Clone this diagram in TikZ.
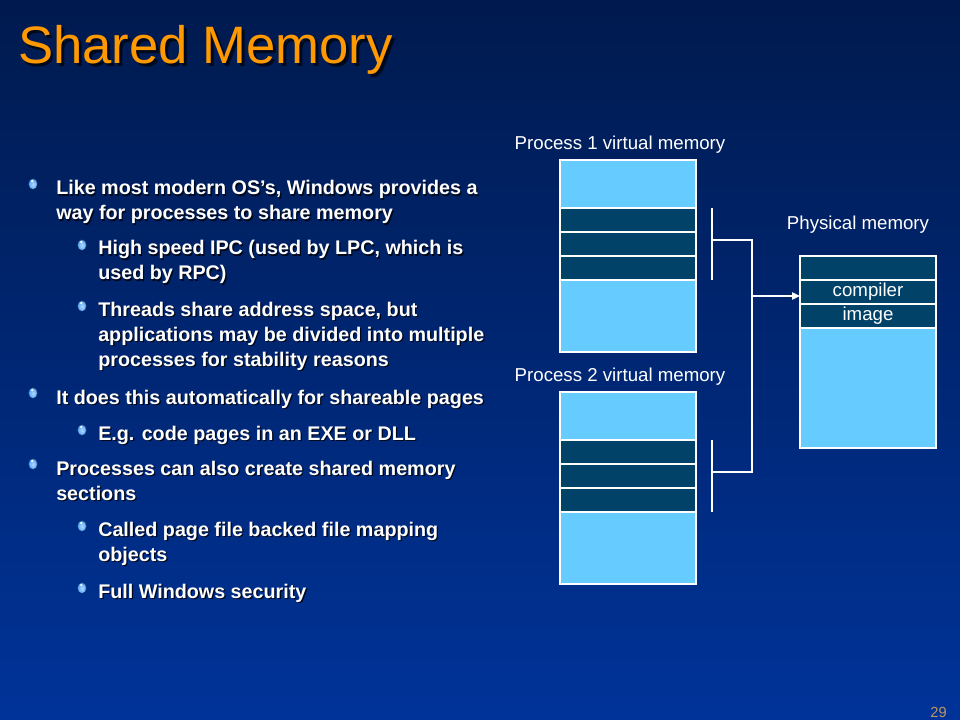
\documentclass[tikz,border=0pt]{standalone}
\usepackage{fontspec}
\setmainfont{Liberation Sans}
\usetikzlibrary{arrows.meta}
\definecolor{bgtop}{RGB}{0,26,78}
\definecolor{bgbot}{RGB}{0,51,153}
\definecolor{lightmem}{RGB}{102,204,255}
\definecolor{darkmem}{RGB}{0,66,104}
\definecolor{titleorange}{RGB}{255,153,0}
\definecolor{pagenum}{RGB}{190,150,100}
\definecolor{txtshadow}{RGB}{0,8,28}
\definecolor{bulletblue}{RGB}{100,175,250}
\newcommand{\shline}[2][1pt]{\hbox{\makebox[0pt][l]{\hspace{#1}\raisebox{-#1}{\color{txtshadow}#2}}#2}}
\newcommand{\para}[1]{\vtop{\baselineskip=18.75pt #1}}
\tikzset{
  cell/.style={draw=white, line width=1pt, minimum width=102pt, inner sep=0pt, outer sep=0pt, anchor=north west, text=white, font=\fontsize{14}{16}\selectfont},
  lightcell/.style={cell, fill=lightmem},
  darkcell/.style={cell, fill=darkmem},
  memlabel/.style={text=white, inner sep=0pt, font=\fontsize{14}{16}\selectfont},
  bulletA/.style={text=white, inner sep=0pt, anchor=base west, font=\bfseries\fontsize{14.8}{18.75}\selectfont},
  conn/.style={draw=white, line width=1pt},
}
\newcommand{\bdot}[2]{%
  \fill[bulletblue!75!black] (#1,#2) ellipse (3.3pt and 4pt);
  \shade[inner color=white!50!bulletblue, outer color=bulletblue] (#1,#2+0.3) ellipse (2.8pt and 3.4pt);
  \fill[white] (#1-0.8,#2-3) ellipse (1.1pt and 0.8pt);}
\begin{document}
\begin{tikzpicture}[x=0.75pt,y=-0.75pt]
\shade[top color=bgtop, bottom color=bgbot] (0,0) rectangle (960,720);
% title
\node[anchor=base west, inner sep=0pt, text=titleorange, font=\fontsize{39.5}{44}\selectfont] (title) at (18,64) {\shline[2pt]{Shared Memory}};
% bullets
\bdot{33}{184}
\node[bulletA] (t1) at (56,195) {\para{\shline{Like most modern OS’s, Windows provides a}\shline{way for processes to share memory}}};
\bdot{82}{245}
\node[bulletA] (t2) at (98,255) {\para{\shline{High speed IPC (used by LPC, which is}\shline{used by RPC)}}};
\bdot{82}{306}
\node[bulletA] (t3) at (98,316) {\para{\shline{Threads share address space, but}\shline{applications may be divided into multiple}\shline{processes for stability reasons}}};
\bdot{33}{393}
\node[bulletA] (t4) at (56,404) {\para{\shline{It does this automatically for shareable pages}}};
\bdot{82}{430}
\node[bulletA] (t5) at (98,440) {\para{\shline{E.g. code pages in an EXE or DLL}}};
\bdot{33}{464}
\node[bulletA] (t6) at (56,475) {\para{\shline{Processes can also create shared memory}\shline{sections}}};
\bdot{82}{526}
\node[bulletA] (t7) at (98,536) {\para{\shline{Called page file backed file mapping}\shline{objects}}};
\bdot{82}{588}
\node[bulletA] (t8) at (98,598) {\para{\shline{Full Windows security}}};
% labels
\node[memlabel] (l1) at (620,145) {Process 1 virtual memory};
\node[memlabel] (l2) at (620,377) {Process 2 virtual memory};
\node[memlabel] (l3) at (858,225) {Physical memory};
% process 1
\node[lightcell, minimum height=36pt] (p1a) at (560,160) {};
\node[darkcell, minimum height=18pt] (p1b) at (560,208) {};
\node[darkcell, minimum height=18pt] (p1c) at (560,232) {};
\node[darkcell, minimum height=18pt] (p1d) at (560,256) {};
\node[lightcell, minimum height=54pt] (p1e) at (560,280) {};
% process 2
\node[lightcell, minimum height=36pt] (p2a) at (560,392) {};
\node[darkcell, minimum height=18pt] (p2b) at (560,440) {};
\node[darkcell, minimum height=18pt] (p2c) at (560,464) {};
\node[darkcell, minimum height=18pt] (p2d) at (560,488) {};
\node[lightcell, minimum height=54pt] (p2e) at (560,512) {};
% physical
\node[darkcell, minimum height=18pt] (ph1) at (800,256) {};
\node[darkcell, minimum height=18pt] (ph2) at (800,280) {compiler};
\node[darkcell, minimum height=18pt] (ph3) at (800,304) {image};
\node[lightcell, minimum height=90pt] (ph4) at (800,328) {};
% connectors
\draw[conn] ([xshift=12pt]p1b.north east) -- ([xshift=12pt]p1d.south east);
\draw[conn] ([xshift=12pt]p2b.north east) -- ([xshift=12pt]p2d.south east);
\coordinate (j1) at (712,240);
\coordinate (j1r) at (752,240);
\coordinate (j2) at (712,472);
\coordinate (j2r) at (752,472);
\coordinate (ja) at (752,296);
\draw[conn] (j1) -- (j1r) -- (j2r) -- (j2);
\draw[conn, -{Triangle[length=6pt,width=5.5pt]}] (ja) -- (ph2.west |- ja);
% page number
\node[anchor=base east, inner sep=0pt, text=pagenum, font=\fontsize{11}{12}\selectfont] (pg) at (947,717) {29};
\end{tikzpicture}
\end{document}
